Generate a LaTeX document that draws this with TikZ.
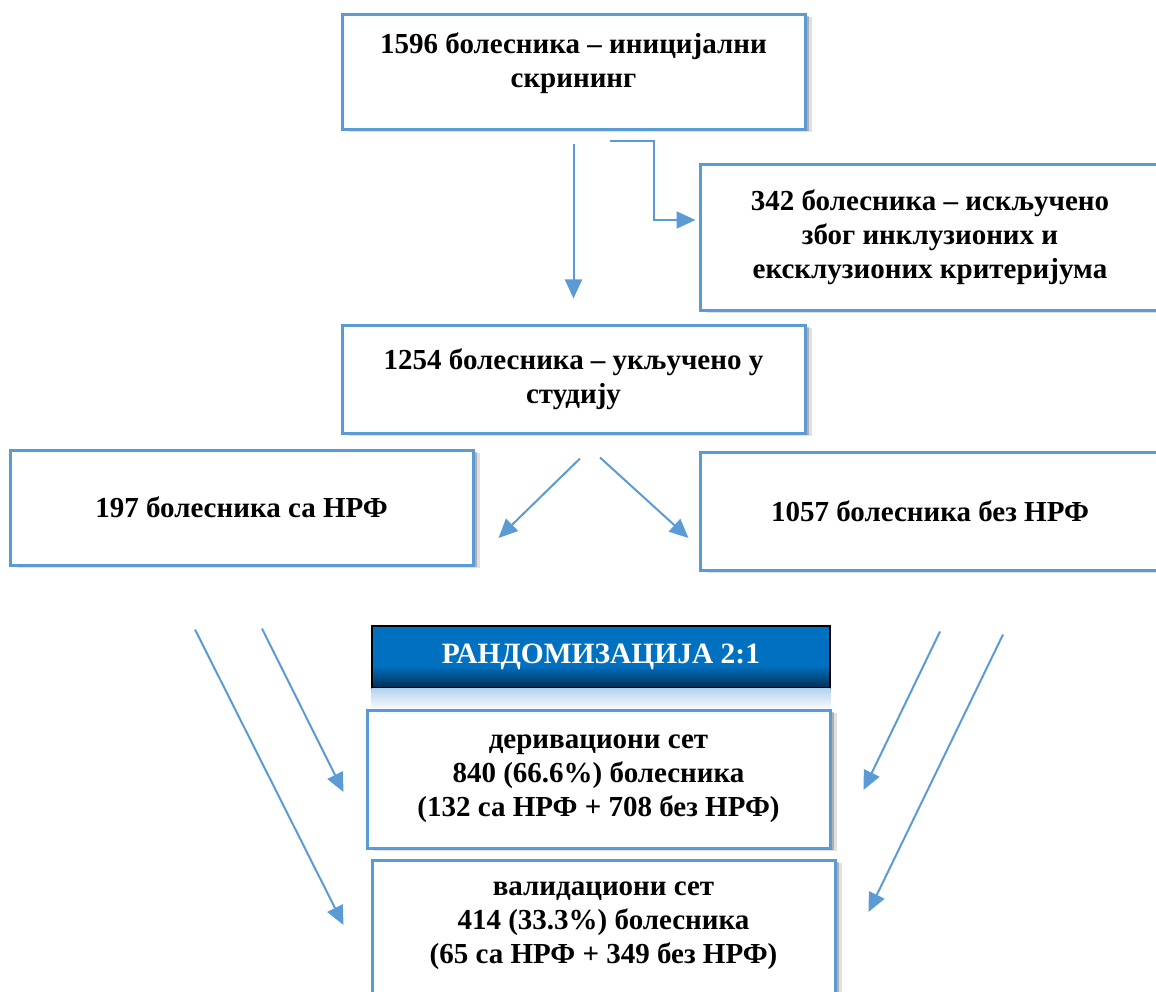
\documentclass[tikz,border=0pt]{standalone}
\usepackage{fontspec}
\setmainfont{Liberation Serif}
\usepackage{xcolor}
\usetikzlibrary{positioning,arrows.meta,shadows}
\definecolor{lineblue}{HTML}{5B9BD5}
\definecolor{bannerblue}{HTML}{0070C0}
\definecolor{bannerdark}{HTML}{002E52}
\pgfdeclareverticalshading{bannershade}{100bp}{color(0bp)=(bannerdark); color(25bp)=(bannerdark);
  color(33bp)=(bannerdark!55!bannerblue); color(43bp)=(bannerblue); color(100bp)=(bannerblue)}

\begin{document}
\begin{tikzpicture}[x=1pt,y=-1pt,
  block/.style={draw=lineblue,line width=3pt,fill=white,
    drop shadow={shadow xshift=7pt,shadow yshift=-2.5pt,opacity=0.12,fill=black},
    drop shadow={shadow xshift=4pt,shadow yshift=-1.5pt,opacity=0.22,fill=black},
    align=center,inner sep=0pt,font=\bfseries\fontsize{29}{34}\selectfont},
  banner/.style={draw=black,line width=1.4pt,shading=bannershade,
    text=white,minimum width=458pt,minimum height=62pt,
    font=\bfseries\fontsize{29.5}{34}\selectfont},
  link/.style={-{Triangle[length=19pt,width=17pt]},draw=lineblue,line width=2pt}]
\useasboundingbox (0,0) rectangle (1156,992);
\node[block,minimum width=463pt,minimum height=115pt] (screen) at (573.5,72.5)
  {1596 болесника – иницијални\\скрининг\\[-10pt]\mbox{}};
\node[block,minimum width=460pt,minimum height=145pt] (excl) at (930,237.5)
  {342 болесника – искључено\\због инклузионих и\\ексклузионих критеријума};
\node[block,minimum width=463pt,minimum height=108pt] (incl) at (573.5,379)
  {1254 болесника – укључено у\\студију};
\node[block,minimum width=463pt,minimum height=115pt] (nrf) at (241.5,507.5)
  {\raisebox{-3pt}{197 болесника са НРФ}};
\node[block,minimum width=460pt,minimum height=118pt] (nonrf) at (930,511)
  {\raisebox{-3pt}{1057 болесника без НРФ}};
\node[banner] (rand) at (601,657) {РАНДОМИЗАЦИЈА 2:1};
\fill[top color=lineblue!45,bottom color=white] (rand.south west) rectangle ([yshift=-22pt]rand.south east);
\node[block,minimum width=463pt,minimum height=138pt] (deriv) at (598.5,779)
  {деривациони сет\\840 (66.6\%) болесника\\(132 са НРФ + 708 без НРФ)};
\node[block,minimum width=463pt,minimum height=135pt] (valid) at (603.5,927.5)
  {валидациони сет\\414 (33.3\%) болесника\\(65 са НРФ + 349 без НРФ)\\[-25pt]\mbox{}};
% screening
\draw[link] ([yshift=-13pt]screen.south) -- ([yshift=25pt]incl.north);
\draw[link] ([xshift=36pt,yshift=-10pt]screen.south) -- ++(44,0) |- ([xshift=-3pt,yshift=17.5pt]excl.west);
% split by NRF
\draw[link] ([xshift=6.5pt,yshift=-24pt]incl.south) -- ([xshift=24pt,yshift=-30.5pt]nrf.east);
\draw[link] ([xshift=26.5pt,yshift=-23pt]incl.south) -- ([xshift=-10pt,yshift=-27pt]nonrf.west);
% randomisation
\draw[link] ([xshift=-46.5pt,yshift=-63pt]nrf.south) -- ([xshift=-27pt,yshift=2.5pt]valid.west);
\draw[link] ([xshift=20.5pt,yshift=-62pt]nrf.south) -- ([xshift=-22pt,yshift=-13pt]deriv.west);
\draw[link] ([xshift=10pt,yshift=-60pt]nonrf.south) -- ([xshift=32pt,yshift=-11pt]deriv.east);
\draw[link] ([xshift=73pt,yshift=-63pt]nonrf.south) -- ([xshift=32pt,yshift=15.5pt]valid.east);
\end{tikzpicture}
\end{document}
